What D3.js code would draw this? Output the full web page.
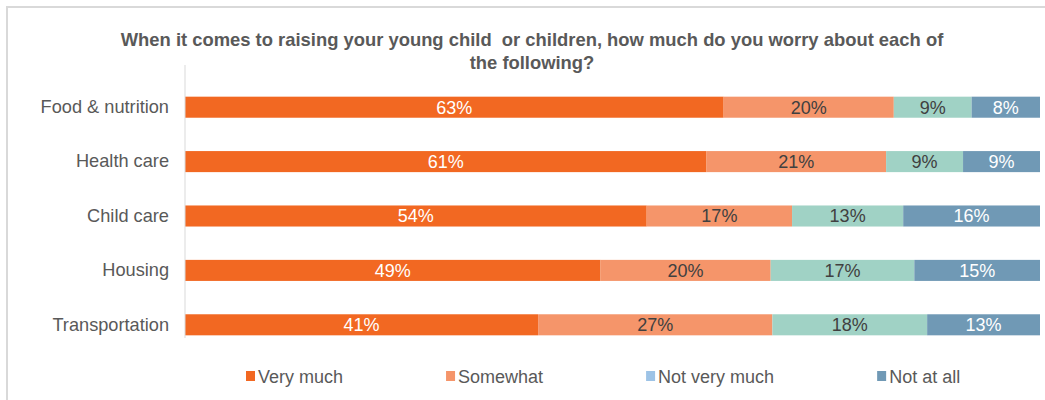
<!DOCTYPE html>
<html>
<head>
<meta charset="utf-8">
<script src="https://cdn.jsdelivr.net/npm/d3@7"></script>
<style>
  html, body { margin: 0; padding: 0; background: #fff; }
  svg { display: block; font-family: "Liberation Sans", Arial, sans-serif; }
</style>
</head>
<body>
<svg id="chart" width="1045" height="400"></svg>
<script>
// ---- data ----
const categories = ["Food & nutrition", "Health care", "Child care", "Housing", "Transportation"];
const seriesNames = ["Very much", "Somewhat", "Not very much", "Not at all"];
const veryMuch    = [63.0, 61.0, 54.0, 48.6, 41.3];
const somewhat    = [19.9, 21.0, 17.0, 19.9, 27.4];
const notVeryMuch = [9.1, 9.0, 13.0, 16.8, 18.1];
const notAtAll    = [8.0, 9.0, 16.0, 14.7, 13.2];
const titleLines = ["When it comes to raising your young child  or children, how much do you worry about each of", "the following?"];

// ---- styles ----
const barColors = ["#F26822", "#F5956A", "#A0D2C5", "#7099B5"];
const legendColors = ["#F26822", "#F5956A", "#9DC3E6", "#7099B5"];
const labelColors = ["#FFFFFF", "#404040", "#404040", "#FFFFFF"];

const svg = d3.select("#chart");

// frame
svg.append("path")
  .attr("d", "M7,400 L7,7 L1045,7")
  .attr("fill", "none")
  .attr("stroke", "#D9D9D9")
  .attr("stroke-width", 2);

// title
svg.append("text")
  .attr("x", 532)
  .attr("text-anchor", "middle")
  .attr("font-size", 18.4)
  .attr("font-weight", "bold")
  .attr("fill", "#595959")
  .selectAll("tspan")
  .data(titleLines)
  .join("tspan")
  .attr("x", 532)
  .attr("y", (d, i) => 46 + i * 23)
  .attr("xml:space", "preserve")
  .style("white-space", "pre")
  .text(d => d);

const series = [veryMuch, somewhat, notVeryMuch, notAtAll];
const rows = categories.map((c, i) => {
  const o = { category: c };
  seriesNames.forEach((s, j) => { o[s] = series[j][i]; });
  return o;
});
const stacked = d3.stack().keys(seriesNames)(rows);

const x = d3.scaleLinear().domain([0, 100]).range([185, 1040]);
const y = d3.scaleBand().domain(categories).range([80, 352]).paddingInner(0.613).paddingOuter(0.3065);

// bars
const layers = svg.append("g").selectAll("g")
  .data(stacked)
  .join("g")
  .attr("fill", (d, i) => barColors[i]);

layers.selectAll("rect")
  .data(d => d)
  .join("rect")
  .attr("x", d => x(d[0]))
  .attr("y", d => y(d.data.category))
  .attr("width", d => x(d[1]) - x(d[0]))
  .attr("height", y.bandwidth());

// data labels
layers.each(function(layer, li) {
  d3.select(this).selectAll("text")
    .data(layer)
    .join("text")
    .attr("x", d => (x(d[0]) + x(d[1])) / 2)
    .attr("y", d => y(d.data.category) + y.bandwidth() / 2)
    .attr("dy", "0.36em")
    .attr("text-anchor", "middle")
    .attr("font-size", 18)
    .attr("fill", labelColors[li])
    .text(d => Math.round(d[1] - d[0]) + "%");
});

// y axis
const yAxis = d3.axisLeft(y).tickSize(0).tickPadding(16);
const gy = svg.append("g").attr("transform", "translate(185,0)").call(yAxis);
gy.select(".domain").remove();
gy.selectAll("text")
  .attr("font-size", 18.2)
  .attr("font-family", "\"Liberation Sans\", Arial, sans-serif")
  .attr("fill", "#595959");
svg.append("line")
  .attr("x1", 185).attr("x2", 185)
  .attr("y1", 65).attr("y2", 338)
  .attr("stroke", "#D9D9D9")
  .attr("stroke-width", 1);

// legend
const legend = svg.append("g");
let lx = 246;
seriesNames.forEach((name, i) => {
  legend.append("rect")
    .attr("x", lx).attr("y", 371)
    .attr("width", 9).attr("height", 10)
    .attr("fill", legendColors[i]);
  const t = legend.append("text")
    .attr("x", lx + 12).attr("y", 383)
    .attr("font-size", 18)
    .attr("fill", "#595959")
    .text(name);
  lx += 12 + t.node().getComputedTextLength() + 103;
});
</script>
</body>
</html>
